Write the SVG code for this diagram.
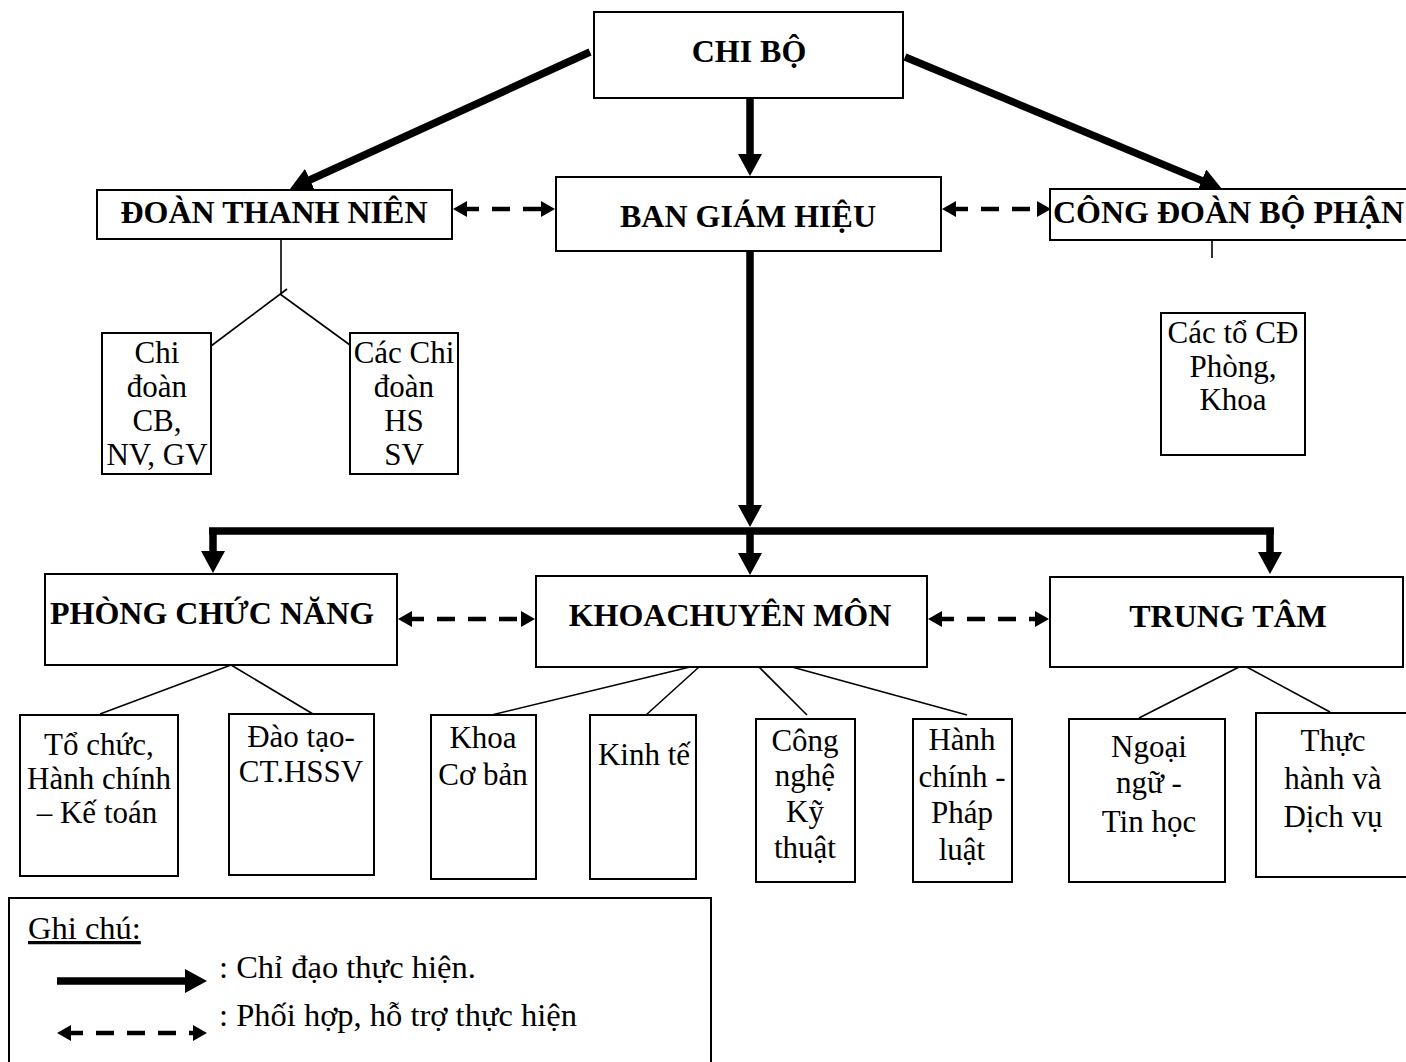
<svg xmlns="http://www.w3.org/2000/svg" width="1406" height="1062" viewBox="0 0 1406 1062">
<style>
  .box { fill: #fff; stroke: #000; stroke-width: 2; }
  .t { font-family: "Liberation Serif", "Times New Roman", serif; font-size: 31px; fill: #000; text-anchor: middle; }
  .b { font-family: "Liberation Serif", "Times New Roman", serif; font-size: 32px; font-weight: bold; fill: #000; text-anchor: middle; }
  .lg { font-family: "Liberation Serif", "Times New Roman", serif; font-size: 32.5px; fill: #000; text-anchor: start; }
  .thin { fill: none; stroke: #000; stroke-width: 1.6; }
  .solid { fill: none; stroke: #000; stroke-width: 7.5; }
  .dash { fill: none; stroke: #000; stroke-width: 4.5; stroke-dasharray: 18 13; }
</style>
<defs>
  <marker id="ah" markerUnits="userSpaceOnUse" markerWidth="22" markerHeight="24" viewBox="0 0 22 24" refX="10" refY="12" orient="auto">
    <path d="M0,0 L22,12 L0,24 z" fill="#000"/>
  </marker>
  <marker id="dh" markerUnits="userSpaceOnUse" markerWidth="14" markerHeight="16" viewBox="0 0 14 16" refX="6" refY="8" orient="auto-start-reverse">
    <path d="M0,0 L14,8 L0,16 z" fill="#000"/>
  </marker>
</defs>
<rect width="1406" height="1062" fill="#fff"/>

<g id="connectors">
  <path class="solid" d="M750,98 V164" marker-end="url(#ah)"/>
  <path class="solid" d="M590,52 L300.9,184" marker-end="url(#ah)"/>
  <path class="solid" d="M905,57 L1210.9,184.4" marker-end="url(#ah)"/>
  <path class="solid" d="M750,251 V515" marker-end="url(#ah)"/>
  <path class="solid" d="M209,531 H1274"/>
  <path class="solid" d="M213,531 V561" marker-end="url(#ah)"/>
  <path class="solid" d="M750,531 V563" marker-end="url(#ah)"/>
  <path class="solid" d="M1270,531 V562" marker-end="url(#ah)"/>
  <path class="dash" d="M461,209 H547" marker-start="url(#dh)" marker-end="url(#dh)"/>
  <path class="dash" d="M950,209 H1043" marker-start="url(#dh)" marker-end="url(#dh)"/>
  <path class="dash" d="M406,619 H527" marker-start="url(#dh)" marker-end="url(#dh)"/>
  <path class="dash" d="M936,619 H1041" marker-start="url(#dh)" marker-end="url(#dh)"/>
  <path class="thin" d="M281,239 V295"/>
  <path class="thin" d="M211,346 L287,289"/>
  <path class="thin" d="M280,294 L350,345"/>
  <path class="thin" d="M1212,239 V258"/>
  <path class="thin" d="M231,665 L100,714"/>
  <path class="thin" d="M231,665 L313,714"/>
  <path class="thin" d="M690,667 L475,719"/>
  <path class="thin" d="M699,667 L646,715"/>
  <path class="thin" d="M759,667 L807,715"/>
  <path class="thin" d="M792,667 L967,715"/>
  <path class="thin" d="M1243,665 L1139,718"/>
  <path class="thin" d="M1243,665 L1330,712"/>
</g>

<g id="chibo">
  <rect class="box" x="594" y="12" width="309" height="86"/>
  <text class="b" x="749" y="62" font-size="31">CHI BỘ</text>
</g>
<g id="doanthanhnien">
  <rect class="box" x="97" y="190" width="355" height="49"/>
  <text class="b" x="274" y="223">ĐOÀN THANH NIÊN</text>
</g>
<g id="bangiamhieu">
  <rect class="box" x="556" y="177" width="385" height="74"/>
  <text class="b" x="748" y="227">BAN GIÁM HIỆU</text>
</g>
<g id="congdoan">
  <rect class="box" x="1050" y="189" width="370" height="51"/>
  <text class="b" x="1053" y="223" style="text-anchor:start">CÔNG ĐOÀN BỘ PHẬN</text>
</g>
<g id="chidoancb">
  <rect class="box" x="102" y="333" width="109" height="141"/>
  <text class="t" x="157" y="363">Chi</text>
  <text class="t" x="157" y="397">đoàn</text>
  <text class="t" x="157" y="431">CB,</text>
  <text class="t" x="157" y="465">NV, GV</text>
</g>
<g id="chidoanhs">
  <rect class="box" x="350" y="333" width="108" height="141"/>
  <text class="t" x="404" y="363">Các Chi</text>
  <text class="t" x="404" y="397">đoàn</text>
  <text class="t" x="404" y="431">HS</text>
  <text class="t" x="404" y="465">SV</text>
</g>
<g id="toCD">
  <rect class="box" x="1161" y="313" width="144" height="142"/>
  <text class="t" x="1233" y="343">Các tổ CĐ</text>
  <text class="t" x="1233" y="377">Phòng,</text>
  <text class="t" x="1233" y="410">Khoa</text>
</g>
<g id="phongchucnang">
  <rect class="box" x="45" y="574" width="352" height="91"/>
  <text class="b" x="50" y="624" style="text-anchor:start">PHÒNG CHỨC NĂNG</text>
</g>
<g id="khoachuyenmon">
  <rect class="box" x="536" y="576" width="391" height="91"/>
  <text class="b" x="730" y="626">KHOACHUYÊN MÔN</text>
</g>
<g id="trungtam">
  <rect class="box" x="1050" y="577" width="353" height="90"/>
  <text class="b" x="1228" y="627">TRUNG TÂM</text>
</g>
<g id="tochuc">
  <rect class="box" x="20" y="715" width="158" height="161"/>
  <text class="t" x="99" y="755">Tổ chức,</text>
  <text class="t" x="99" y="789">Hành chính</text>
  <text class="t" x="97" y="823">– Kế toán</text>
</g>
<g id="daotao">
  <rect class="box" x="229" y="714" width="145" height="161"/>
  <text class="t" x="301" y="747">Đào tạo-</text>
  <text class="t" x="301" y="782">CT.HSSV</text>
</g>
<g id="khoacoban">
  <rect class="box" x="431" y="715" width="105" height="164"/>
  <text class="t" x="483" y="748">Khoa</text>
  <text class="t" x="483" y="785">Cơ bản</text>
</g>
<g id="kinhte">
  <rect class="box" x="590" y="715" width="106" height="164"/>
  <text class="t" x="644" y="765">Kinh tế</text>
</g>
<g id="congnghe">
  <rect class="box" x="756" y="719" width="99" height="163"/>
  <text class="t" x="805" y="751">Công</text>
  <text class="t" x="805" y="786">nghệ</text>
  <text class="t" x="805" y="822">Kỹ</text>
  <text class="t" x="805" y="858">thuật</text>
</g>
<g id="hanhchinh">
  <rect class="box" x="913" y="719" width="99" height="163"/>
  <text class="t" x="962" y="750">Hành</text>
  <text class="t" x="962" y="787">chính -</text>
  <text class="t" x="962" y="823">Pháp</text>
  <text class="t" x="962" y="860">luật</text>
</g>
<g id="ngoaingu">
  <rect class="box" x="1069" y="719" width="156" height="163"/>
  <text class="t" x="1149" y="757">Ngoại</text>
  <text class="t" x="1149" y="793">ngữ -</text>
  <text class="t" x="1149" y="832">Tin học</text>
</g>
<g id="thuchanh">
  <rect class="box" x="1256" y="713" width="170" height="164"/>
  <text class="t" x="1333" y="751">Thực</text>
  <text class="t" x="1333" y="789">hành và</text>
  <text class="t" x="1333" y="827">Dịch vụ</text>
</g>

<g id="legend">
  <rect class="box" x="9" y="898" width="702" height="180"/>
  <text class="lg" x="28" y="939" font-size="31" text-decoration="underline">Ghi chú:</text>
  <path class="solid" d="M57,981 H195" marker-end="url(#ah)"/>
  <path class="dash" d="M65,1033 H199" marker-start="url(#dh)" marker-end="url(#dh)"/>
  <text class="lg" x="219" y="978">: Chỉ đạo thực hiện.</text>
  <text class="lg" x="219" y="1026">: Phối hợp, hỗ trợ thực hiện</text>
</g>
</svg>
